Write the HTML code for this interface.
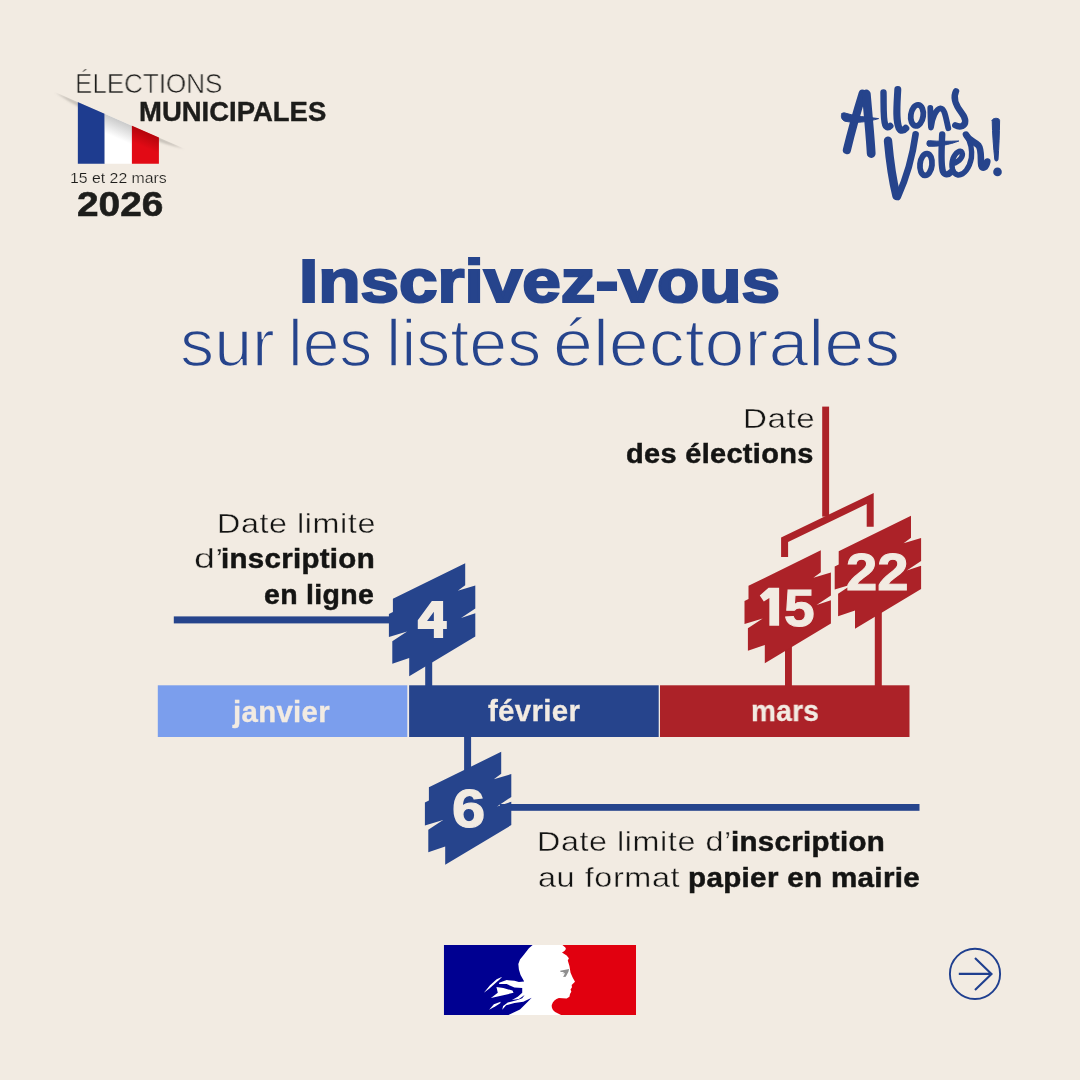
<!DOCTYPE html>
<html lang="fr"><head><meta charset="utf-8"><title>Inscrivez-vous sur les listes électorales</title>
<style>
html,body{margin:0;padding:0;}
body{width:1080px;height:1080px;background:#f2ebe2;position:relative;overflow:hidden;font-family:"Liberation Sans",sans-serif;}
.t{position:absolute;white-space:nowrap;line-height:normal;transform-origin:0 0;display:block;will-change:transform;}
svg{position:absolute;left:0;top:0;}
</style></head>
<body>
<svg width="1080" height="1080" viewBox="0 0 1080 1080">
<defs>
  <path id="badge" d="M465.2 563.3 L465.2 585.2 L457.8 590.8 L475.3 585.6 L475.3 608.4 L461 618.1 L475.3 613.2 L475.3 636.6 L409.2 676.3 L409.2 658.1 L392.3 663.7 L392.3 641.2 L407.1 631.4 L388.9 637 L388.9 614.1 L392.9 612.1 L392.9 598.8 Z"/>
  <linearGradient id="shw" gradientUnits="userSpaceOnUse" x1="118" y1="119.6" x2="111" y2="135.6">
    <stop offset="0" stop-color="#8a8a8a" stop-opacity="0.45"/>
    <stop offset="1" stop-color="#8a8a8a" stop-opacity="0"/>
  </linearGradient>
  <linearGradient id="shr" gradientUnits="userSpaceOnUse" x1="145" y1="131.4" x2="139" y2="145">
    <stop offset="0" stop-color="#7a0000" stop-opacity="0.45"/>
    <stop offset="1" stop-color="#7a0000" stop-opacity="0"/>
  </linearGradient>
  <linearGradient id="sho" gradientUnits="userSpaceOnUse" x1="118" y1="119.6" x2="114.4" y2="127.8">
    <stop offset="0" stop-color="#8f8a84" stop-opacity="0.55"/>
    <stop offset="1" stop-color="#9a948c" stop-opacity="0"/>
  </linearGradient>
  <filter id="blur1" x="-20%" y="-20%" width="140%" height="140%"><feGaussianBlur stdDeviation="0.9"/></filter>
  <clipPath id="belowline"><path d="M40 85.4 L200 155.5 L200 180 L40 180 Z"/></clipPath>
  <clipPath id="flagclip"><path d="M77.6 101.9 L158.9 137.5 L158.9 163.8 L77.6 163.8 Z"/></clipPath>
</defs>

<!-- flag -->
<g id="flag">
  <path d="M55 92 L184 148.5 Q112 132.5 55 92 Z" fill="url(#sho)" filter="url(#blur1)" clip-path="url(#belowline)"/>
  <g clip-path="url(#flagclip)">
    <rect x="77.6" y="95" width="27.1" height="69" fill="#1e3c8f"/>
    <rect x="104.7" y="95" width="27.2" height="69" fill="#ffffff"/>
    <rect x="131.9" y="95" width="27.1" height="69" fill="#e20a15"/>
    <path d="M104.7 113.8 L131.9 125.7 L131.9 150 L104.7 150 Z" fill="url(#shw)"/>
    <path d="M131.9 125.7 L158.9 137.5 L158.9 160 L131.9 160 Z" fill="url(#shr)"/>
  </g>
</g>

<!-- timeline bar -->
<rect x="157.8" y="685.3" width="249.5" height="51.7" fill="#7b9eed"/>
<rect x="409.1" y="685.3" width="249.6" height="51.7" fill="#26448c"/>
<rect x="660" y="685.3" width="249.5" height="51.7" fill="#ac2228"/>

<!-- blue connectors -->
<g fill="#26448c">
  <rect x="173.8" y="616.4" width="220" height="7"/>
  <rect x="425.2" y="650" width="7" height="36"/>
  <rect x="464.1" y="736" width="7" height="50"/>
  <rect x="500" y="804" width="419.5" height="6.8"/>
  <path d="M465.2 563.3 L465.2 585.2 L457.8 590.8 L475.3 585.6 L475.3 608.4 L461 618.1 L475.3 613.2 L475.3 636.6 L409.2 676.3 L409.2 658.1 L392.3 663.7 L392.3 641.2 L407.1 631.4 L388.9 637 L388.9 614.1 L392.9 612.1 L392.9 598.8 Z"/>
  <path d="M465.2 563.3 L465.2 585.2 L457.8 590.8 L475.3 585.6 L475.3 608.4 L461 618.1 L475.3 613.2 L475.3 636.6 L409.2 676.3 L409.2 658.1 L392.3 663.7 L392.3 641.2 L407.1 631.4 L388.9 637 L388.9 614.1 L392.9 612.1 L392.9 598.8 Z" transform="translate(36,188.5)"/>
</g>
<path id="four" fill="#f2ebe2" fill-rule="evenodd" d="M431.85 600.96 L443.11 600.96 L443.11 620.96 L446.81 620.96 L446.81 628.89 L443.11 628.89 L443.11 638.00 L433.85 638.00 L433.85 628.89 L417.78 628.89 L417.78 620.37 Z M433.85 611.85 L433.85 620.96 L427.04 620.96 Z"/>
<!-- red connectors -->
<g fill="#ac2228">
  <rect x="822.2" y="406.6" width="6.9" height="110"/>
  <path d="M781.1 556.9 L781.1 537.4 L873.7 493 L873.7 526.7 L866.7 526.7 L866.7 504.1 L788.1 542 L788.1 556.9 Z"/>
  <rect x="785" y="640" width="6.9" height="46"/>
  <rect x="874.8" y="600" width="7" height="86"/>
  <path d="M465.2 563.3 L465.2 585.2 L457.8 590.8 L475.3 585.6 L475.3 608.4 L461 618.1 L475.3 613.2 L475.3 636.6 L409.2 676.3 L409.2 658.1 L392.3 663.7 L392.3 641.2 L407.1 631.4 L388.9 637 L388.9 614.1 L392.9 612.1 L392.9 598.8 Z" transform="translate(355.6,-13)"/>
  <path d="M465.2 563.3 L465.2 585.2 L457.8 590.8 L475.3 585.6 L475.3 608.4 L461 618.1 L475.3 613.2 L475.3 636.6 L409.2 676.3 L409.2 658.1 L392.3 663.7 L392.3 641.2 L407.1 631.4 L388.9 637 L388.9 614.1 L392.9 612.1 L392.9 598.8 Z" transform="translate(445.8,-47.5)"/>
</g>

<path id="one" fill="#f2ebe2" d="M768.57 587.69 L779.12 587.69 L779.12 625.79 L769.36 625.79 L769.36 597.93 L763.85 601.39 L759.76 595.41 Z"/>
<!-- Marianne -->
<clipPath id="marclip"><rect x="443.8" y="944.9" width="192.2" height="70.2"/></clipPath>
<g id="marianne" clip-path="url(#marclip)">
  <rect x="443.8" y="944.9" width="100" height="70.2" fill="#000091"/>
  <rect x="540" y="944.9" width="96" height="70.2" fill="#e1000f"/>
  <g transform="translate(470,935) scale(0.11111)">
    <path fill="#ffffff" d="M575 80 L820 80 L858 112 C868 125 862 140 828 158 L870 185 L890 210 L880 230 L895 280 L905 340 L925 385 L945 420 L915 450 L918 470 L905 490 L912 510 L900 530 L895 555 L870 572 L800 568 C770 578 745 600 736 630 C732 655 745 680 770 695 L840 730 L340 730 L350 718 L450 670 L520 600 L555 565 L480 600 L400 612 L325 632 L290 672 L298 640 L340 608 L420 588 L470 570 L492 540 L440 577 L378 584 L430 555 L470 520 L470 476 L400 472 L330 442 L262 442 L262 430 L330 406 L400 412 L440 422 L488 418 L455 360 L440 310 L435 260 L450 220 L490 170 L530 120 Z"/>
    <path fill="#ffffff" d="M238 468 L300 478 L382 500 L392 520 L300 542 L188 567 L250 520 Z"/>
    <path fill="#ffffff" d="M290 376 L240 398 L180 452 L125 520 L175 482 L235 428 L264 402 Z"/>
    <path fill="#ffffff" d="M276 600 L215 624 L172 672 L230 642 L272 614 Z"/>
    <path fill="#8f8f8f" d="M812 322 L892 306 L886 330 L862 375 L838 378 L855 345 L830 345 L850 332 L815 334 Z"/>
  </g>
</g>

<!-- arrow circle -->
<g fill="none" stroke="#1f3f8f" stroke-width="1.9">
  <circle cx="975" cy="973.9" r="25.1"/>
  <path d="M958.8 973.9 L991.5 973.9 M975 957.9 L991.5 973.9 L975 990" stroke-width="2.1" stroke-linejoin="miter"/>
</g>

<!-- Allons Voter -->
<g id="allons" fill="none" stroke="#26448c" stroke-linecap="round" stroke-linejoin="round">
  <path stroke-width="8.2" d="M862.6 93.6 C857.5 110 851.5 131 846.9 150"/>
  <path stroke-width="8.8" d="M866.3 94 C868.3 117 870.3 137 871.2 153.5"/>
  <path fill="#26448c" stroke-width="1" d="M842 113.5 C840.5 116 841.5 120 845 121.2 C856 123.5 867 122 878.6 118.6 C867 117 855 116.5 846 113.3 C844.5 112.6 843 112.6 842 113.5 Z"/>
  <path stroke-width="6.4" d="M883.5 92.5 C883.8 105 883 119 885.3 125 C886.5 127.8 888.5 127.8 890.3 126"/>
  <path stroke-width="7" d="M897.8 89.5 C897 105 895.5 120 899 128 C900.7 131.2 903.5 131 905.8 128.3"/>
  <ellipse stroke-width="5.8" cx="917" cy="115.4" rx="6.2" ry="10.6" transform="rotate(8 917 115.4)"/>
  <path stroke-width="5.8" d="M930.3 108 C930.5 115 930.5 122 931 127.5 C932 118 936 108.8 940.5 108.3 C945 108.3 946 119 948.3 128.3"/>
  <path stroke-width="6.4" d="M956 91.3 C952 99 957 107 961.7 113 C966.3 119 966.3 124 962.2 126 C959.5 127 957.5 126.5 955.3 125.3"/>
  <path stroke-width="8.4" d="M888 140.8 C890 163 893 182 896.5 196"/>
  <path stroke-width="6.6" d="M915.6 134.3 C912.5 157 905 181 897.8 197"/>
  <ellipse stroke-width="5.8" cx="926" cy="164.5" rx="6" ry="11" transform="rotate(6 926 164.5)"/>
  <path stroke-width="6.4" d="M942.2 134.5 C941.5 150 940.5 165 943 171.5 C944.5 175 948 175.2 950.5 172.5"/>
  <path fill="#26448c" stroke-width="1" d="M927.6 141.2 C926.5 142.5 926.6 145.3 928.2 146.2 C938 146.8 950 144.5 958.8 141 C949 141.3 938 141.5 929.5 140.7 C928.8 140.6 928 140.7 927.6 141.2 Z"/>
  <path stroke-width="5.4" d="M953 163.6 C960 161.5 963.5 156 962 152.5 C960.5 149.5 955.5 152 953 158.5 C950.5 166 952.5 174 958 175 C964 175.5 969.5 168 971.4 158 C972.3 150 970 141 966.5 135"/>
  <path stroke-width="6.6" d="M966 134.6 C969 141 975 141.5 978.5 145.5 C982 150 980.3 160 981.3 165.5 C982.3 169.5 986 168 987.3 161.5"/>
  <path fill="#26448c" stroke-width="1" d="M992.2 120.5 C992.2 117.5 999.6 117.5 999.6 120.5 C999.5 134 998.8 148 998 159.5 C997.8 161.5 995 161.5 994.8 159.5 C993.6 148 992.4 134 992.2 120.5 Z"/>
  <circle cx="997.5" cy="171.9" r="4.3" fill="#26448c" stroke="none"/>
</g>
</svg>

<span class="t" id="t0" style="left:74.80px;top:67.69px;font-size:27.3px;font-weight:400;color:#1d1d1b;-webkit-text-stroke:0.65px #f2ebe2;transform:scaleX(0.9523);">ÉLECTIONS</span>
<span class="t" id="t1" style="left:138.68px;top:97.27px;font-size:27px;font-weight:700;color:#1d1d1b;-webkit-text-stroke:0.4px #1d1d1b;transform:scaleX(1.0176);">MUNICIPALES</span>
<span class="t" id="t2" style="left:70.18px;top:169.14px;font-size:15.2px;font-weight:400;color:#1d1d1b;-webkit-text-stroke:0.2px #f2ebe2;transform:scaleX(1.0418);">15 et 22 mars</span>
<span class="t" id="t3" style="left:76.67px;top:184.38px;font-size:35.6px;font-weight:700;color:#1d1d1b;-webkit-text-stroke:0.6px #1d1d1b;transform:scaleX(1.0909);">2026</span>
<span class="t" id="t4" style="left:298.62px;top:245.85px;font-size:60.5px;font-weight:700;color:#26448c;-webkit-text-stroke:2.2px #26448c;transform:scaleX(1.1447);">Inscrivez-vous</span>
<span class="t" id="t5" style="left:179.81px;top:304.67px;font-size:66px;font-weight:400;color:#26448c;-webkit-text-stroke:1.6px #f2ebe2;transform:scaleX(1.0345);">sur</span>
<span class="t" id="t6" style="left:287.92px;top:304.67px;font-size:66px;font-weight:400;color:#26448c;-webkit-text-stroke:1.6px #f2ebe2;transform:scaleX(0.9974);">les</span>
<span class="t" id="t7" style="left:385.84px;top:304.67px;font-size:66px;font-weight:400;color:#26448c;-webkit-text-stroke:1.6px #f2ebe2;transform:scaleX(1.0324);">listes</span>
<span class="t" id="t8" style="left:553.04px;top:304.67px;font-size:66px;font-weight:400;color:#26448c;-webkit-text-stroke:1.6px #f2ebe2;transform:scaleX(1.0876);">électorales</span>
<span class="t" id="t9" style="left:742.62px;top:403.16px;font-size:28px;font-weight:400;color:#141413;letter-spacing:0.5px;-webkit-text-stroke:0.4px #f2ebe2;transform:scaleX(1.1826);">Date</span>
<span class="t" id="t10" style="left:626.06px;top:438.26px;font-size:28px;font-weight:700;color:#141413;letter-spacing:0.3px;-webkit-text-stroke:0.5px #141413;transform:scaleX(1.0346);">des élections</span>
<span class="t" id="t11" style="left:217.00px;top:508.46px;font-size:28px;font-weight:400;color:#141413;letter-spacing:0.5px;-webkit-text-stroke:0.4px #f2ebe2;transform:scaleX(1.1538);">Date limite</span>
<span class="t" id="t12" style="left:194.31px;top:543.06px;font-size:28px;font-weight:400;color:#141413;-webkit-text-stroke:0.4px #f2ebe2;transform:scaleX(1.3488);">d’</span>
<span class="t" id="t13" style="left:221.32px;top:543.06px;font-size:28px;font-weight:700;color:#141413;letter-spacing:0.3px;-webkit-text-stroke:0.5px #141413;transform:scaleX(1.0515);">inscription</span>
<span class="t" id="t14" style="left:264.28px;top:578.76px;font-size:28px;font-weight:700;color:#141413;letter-spacing:0.3px;-webkit-text-stroke:0.5px #141413;transform:scaleX(1.0170);">en ligne</span>
<span class="t" id="t15" style="left:233.41px;top:695.75px;font-size:29px;font-weight:700;color:#f2ebe2;letter-spacing:0.3px;-webkit-text-stroke:0.3px #f2ebe2;transform:scaleX(1.0146);">janvier</span>
<span class="t" id="t16" style="left:487.90px;top:695.36px;font-size:29px;font-weight:700;color:#f2ebe2;letter-spacing:0.3px;-webkit-text-stroke:0.3px #f2ebe2;transform:scaleX(1.0154);">février</span>
<span class="t" id="t17" style="left:750.74px;top:695.36px;font-size:29px;font-weight:700;color:#f2ebe2;letter-spacing:0.3px;-webkit-text-stroke:0.3px #f2ebe2;transform:scaleX(0.9677);">mars</span>
<span class="t" id="t18" style="left:536.75px;top:826.36px;font-size:28px;font-weight:400;color:#141413;letter-spacing:0.5px;-webkit-text-stroke:0.4px #f2ebe2;transform:scaleX(1.1537);">Date limite d’</span>
<span class="t" id="t19" style="left:730.55px;top:826.36px;font-size:28px;font-weight:700;color:#141413;letter-spacing:0.3px;-webkit-text-stroke:0.5px #141413;transform:scaleX(1.0529);">inscription</span>
<span class="t" id="t20" style="left:537.89px;top:861.96px;font-size:28px;font-weight:400;color:#141413;letter-spacing:0.5px;-webkit-text-stroke:0.4px #f2ebe2;transform:scaleX(1.1571);">au format</span>
<span class="t" id="t21" style="left:687.94px;top:861.96px;font-size:28px;font-weight:700;color:#141413;letter-spacing:0.3px;-webkit-text-stroke:0.5px #141413;transform:scaleX(1.0569);">papier en mairie</span>
<span class="t" id="t22" style="left:452.24px;top:778.24px;font-size:53px;font-weight:700;color:#f2ebe2;-webkit-text-stroke:1.2px #f2ebe2;transform:scaleX(1.1260);">6</span>
<span class="t" id="t23" style="left:784.17px;top:578.24px;font-size:52px;font-weight:700;color:#f2ebe2;-webkit-text-stroke:1.0px #f2ebe2;transform:scaleX(1.0593);">5</span>
<span class="t" id="t24" style="left:846.23px;top:542.44px;font-size:52px;font-weight:700;color:#f2ebe2;-webkit-text-stroke:1.0px #f2ebe2;transform:scaleX(1.0822);">22</span>
</body></html>
